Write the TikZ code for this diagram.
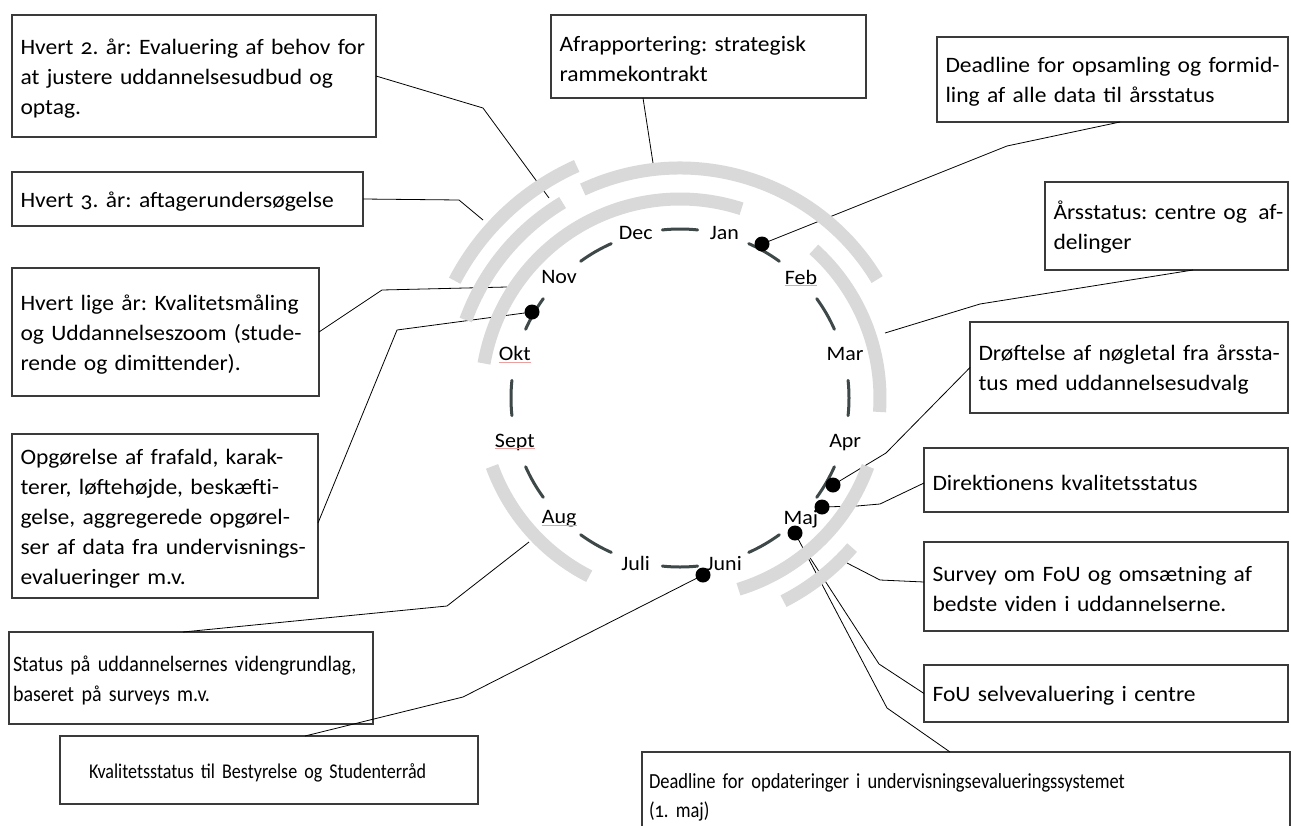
\documentclass[tikz,border=0pt]{standalone}
\usepackage{fontspec}
\setmainfont{Carlito}
\newfontfamily\candfont[FakeStretch=1.07,Numbers=OldStyle]{Carlito}
\newfontfamily\califontA[FakeStretch=0.91,Numbers=OldStyle]{Carlito}
\newfontfamily\califontB[FakeStretch=0.86,Numbers=OldStyle]{Carlito}
\definecolor{boxc}{HTML}{3A3A3A}
\definecolor{arcgray}{HTML}{D9D9D9}
\definecolor{segc}{HTML}{3E4848}
\definecolor{squigc}{HTML}{EBA0A0}
\begin{document}
\frenchspacing
\begin{tikzpicture}[x=1pt,y=-1pt,
  boxa/.style={draw=boxc, line width=1.1pt, fill=white, anchor=north west, inner xsep=8.5pt, inner ysep=0pt, outer sep=0pt, align=left, font=\candfont\fontsize{22}{30}\selectfont, execute at begin node={\rule{0pt}{20.5pt}}},
  boxb/.style={boxa, font=\califontB\fontsize{21}{29.5}\selectfont},
  conn/.style={draw=black, line width=0.8pt, line join=round},
  garc/.style={draw=arcgray, line width=13pt},
  mseg/.style={draw=segc, line width=3pt, line cap=round},
  mlab/.style={font=\candfont\fontsize{20.5}{24}\selectfont, inner sep=0pt},
  dotn/.style={circle, fill=black, minimum size=15pt, inner sep=0pt},
  squig/.style={draw=squigc, line width=0.8pt}]
\useasboundingbox (0,0) rectangle (1291,825);
\fill[white] (0,0) rectangle (1291,825);

% boxes
\node[boxa, text width=347pt, minimum height=122pt] (b1) at (12,15) {\mbox{Hvert 2. år: Evaluering af behov for}\\\mbox{at justere uddannelsesudbud og}\\\mbox{optag.}};
\node[boxa, text width=334pt, minimum height=54pt] (b2) at (12,172) {\mbox{Hvert 3. år: aftagerundersøgelse}};
\node[boxa, text width=290pt, minimum height=128pt] (b3) at (12,268) {\mbox{Hvert lige år: Kvalitetsmåling}\\\mbox{og Uddannelseszoom (stude-}\\\mbox{rende og dimittender).}};
\node[boxa, text width=289pt, minimum height=164pt] (b4) at (12,434) {\mbox{Opgørelse af frafald, karak-}\\\mbox{terer, løftehøjde, beskæfti-}\\\mbox{gelse, aggregerede opgørel-}\\\mbox{ser af data fra undervisnings-}\\\mbox{evalueringer m.v.}};
\node[boxb, font=\califontA\fontsize{22}{30}\selectfont, inner xsep=4pt, text width=356pt, minimum height=92pt] (b5) at (9,632) {\mbox{Status på uddannelsernes videngrundlag,}\\\mbox{baseret på surveys m.v.}};
\node[boxb, inner xsep=29pt, text width=360pt, minimum height=68pt] (b6) at (60,736) {\mbox{Kvalitetsstatus til Bestyrelse og Studenterråd}};
\node[boxa, text width=298pt, minimum height=83pt] (b7) at (551,15) {\mbox{Afrapportering: strategisk}\\\mbox{rammekontrakt}};
\node[boxa, text width=334pt, minimum height=85pt] (b8) at (937,37) {\mbox{Deadline for opsamling og formid-}\\\mbox{ling af alle data til årsstatus}};
\node[boxa, text width=226pt, minimum height=88pt] (b9) at (1045,182) {\mbox{Årsstatus: centre og\hspace{4pt} af-}\\\mbox{delinger}};
\node[boxa, text width=301pt, minimum height=91pt] (b10) at (970,322) {\mbox{Drøftelse af nøgletal fra årssta-}\\\mbox{tus med uddannelsesudvalg}};
\node[boxa, text width=347pt, minimum height=64pt] (b11) at (924,448) {\mbox{Direktionens kvalitetsstatus}};
\node[boxa, text width=347pt, minimum height=89pt] (b12) at (924,542) {\mbox{Survey om FoU og omsætning af}\\\mbox{bedste viden i uddannelserne.}};
\node[boxa, text width=347pt, minimum height=57pt] (b13) at (924,665) {\mbox{FoU selvevaluering i centre}};
\node[boxb, font=\califontB\fontsize{21.5}{29}\selectfont, inner xsep=7pt, text width=634pt, minimum height=86pt] (b14) at (642,752) {\mbox{Deadline for opdateringer i undervisningsevalueringssystemet}\\\mbox{(1. maj)}};

% points on the wheel
\coordinate (pjan) at (762,244);
\coordinate (pokt) at (532,312);
\coordinate (papr) at (833,485);
\coordinate (pmaja) at (822,507);
\coordinate (pmajb) at (795,533);
\coordinate (pjuni) at (703,575);
\coordinate (e1) at (549,198);
\coordinate (e2) at (483,220);
\coordinate (e3) at (507,287);
\coordinate (e5) at (529,542);
\coordinate (e7) at (653,163);
\coordinate (e9) at (885,333);
\coordinate (e12) at (847,563);
\coordinate (e13) at (805,550);

% connectors
\draw[conn] (b1.east) -- (483,108) -- (e1);
\draw[conn] (b2.east) -- (459,200) -- (e2);
\draw[conn] (b3.east) -- (382,290) -- (e3);
\draw[conn] ([yshift=-7pt]b4.east) -- (397,330) -- (pokt);
\draw[conn] ([xshift=-8pt]b5.north) -- (447,606) -- (e5);
\draw[conn] ([xshift=245pt]b6.north west) -- (463,697) -- (pjuni);
\draw[conn] ([xshift=92pt]b7.south west) -- (e7);
\draw[conn] ([xshift=183pt]b8.south west) -- (1007,146) -- (pjan);
\draw[conn] ([xshift=148pt]b9.south west) -- (980,304) -- (e9);
\draw[conn] (b10.west) -- (886,453) -- (papr);
\draw[conn] ([yshift=-3pt]b11.west) -- (880,504) -- (857,506) -- (pmaja);
\draw[conn] ([yshift=4.5pt]b12.west) -- (880,580) -- (e12);
\draw[conn] (b13.west) -- (879,664) -- (e13);
\draw[conn] (pmajb) -- (887,708) -- ([xshift=308pt]b14.north west);

% wheel
\begin{scope}[shift={(680,398)}]
 \draw[garc] (170:199pt) arc[start angle=170, end angle=72, radius=199pt];
 \draw[garc] (48:200pt) arc[start angle=48, end angle=-4, radius=200pt];
 \draw[garc] (-20:200pt) arc[start angle=-20, end angle=-73, radius=200pt];
 \draw[garc] (-160:200pt) arc[start angle=-160, end angle=-117, radius=200pt];
 \draw[garc] (115:230pt) arc[start angle=115, end angle=31, radius=230pt];
 \draw[garc] (160:228pt) arc[start angle=160, end angle=121, radius=228pt];
 \draw[garc] (-41:228pt) arc[start angle=-41, end angle=-63, radius=228pt];
 \draw[garc] (152.5:254pt) arc[start angle=152.5, end angle=114, radius=254pt];
 \foreach \a in {90,60,30,0,-30,-60,-90,-120,-150,-180,-210,-240} {
   \draw[mseg] ({\a+6}:169pt) arc[start angle=\a+6, end angle=\a-6, radius=169pt];
 }
 \node[mlab] (mjan) at (75:171pt) {Jan};
 \node[mlab] (mfeb) at (45:171pt) {Feb};
 \node[mlab] (mmar) at (15:171pt) {Mar};
 \node[mlab] (mapr) at (-15:171pt) {Apr};
 \node[mlab] (mmaj) at (-45:171pt) {Maj};
 \node[mlab] (mjuni) at (-75:171pt) {Juni};
 \node[mlab] (mjuli) at (-105:171pt) {Juli};
 \node[mlab] (maug) at (-135:171pt) {Aug};
 \node[mlab] (msept) at (-165:171pt) {Sept};
 \node[mlab] (mokt) at (165:171pt) {Okt};
 \node[mlab] (mnov) at (135:171pt) {Nov};
 \node[mlab] (mdec) at (105:171pt) {Dec};
\end{scope}
\foreach \m in {mfeb,mokt,msept,maug}
  \draw[squig] ([yshift=-1.5pt]\m.base west) -- ([yshift=-1.5pt]\m.base east);

% dots
\foreach \p in {pjan,pokt,papr,pmaja,pmajb,pjuni}
  \node[dotn] (d\p) at (\p) {};
\end{tikzpicture}
\end{document}
